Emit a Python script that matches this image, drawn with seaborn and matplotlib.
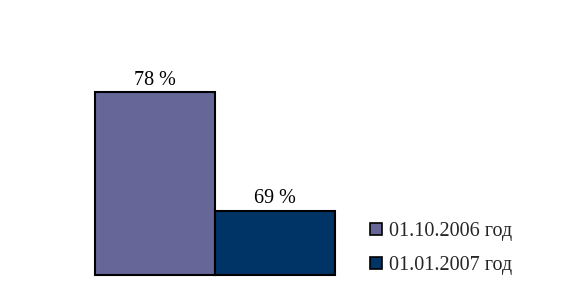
import matplotlib
matplotlib.use("Agg")
import matplotlib.pyplot as plt
import seaborn as sns
import pandas as pd

categories = ["01.10.2006 год", "01.01.2007 год"]
values = [78, 69]
value_labels = ["78 %", "69 %"]
colors = ["#666699", "#003366"]
baseline = 64.1

sns.set_theme(style="white")
plt.rcParams["font.family"] = ["Liberation Serif", "DejaVu Serif"]

df = pd.DataFrame({"date": categories, "value": values})

fig = plt.figure(figsize=(5.82, 2.82), dpi=100)
ax = fig.add_axes([95.3 / 582, 1 - 275 / 282, 239.7 / 582, 265 / 282])

sns.barplot(data=df, x="date", y="value", hue="date", palette=colors,
            width=1.0, edgecolor="black", linewidth=1.5, ax=ax, legend=False,
            saturation=1)
for p in ax.patches:
    top = p.get_y() + p.get_height()
    p.set_y(baseline)
    p.set_height(top - baseline)
    p.set_clip_on(False)

ax.set_ylim(baseline, baseline + 265 / 13.14)
ax.set_xlim(-0.5, 1.5)
for s in ax.spines.values():
    s.set_visible(False)
ax.set_xticks([])
ax.set_yticks([])
ax.set_xlabel("")
ax.set_ylabel("")

for cont, lab in zip(ax.containers, value_labels):
    ax.bar_label(cont, labels=[lab], padding=2, fontsize=14.5, color="black")

from matplotlib.patches import Patch
handles = [Patch(facecolor=c, edgecolor="black", linewidth=1.2) for c in colors]
fig.legend(handles, categories, loc="upper left",
           bbox_to_anchor=(362 / 582, 1 - 214 / 282), frameon=False,
           fontsize=14.5, handlelength=0.6, handleheight=0.6,
           handletextpad=0.35, labelspacing=0.75, borderaxespad=0)

fig.savefig("out.png", dpi=100)
